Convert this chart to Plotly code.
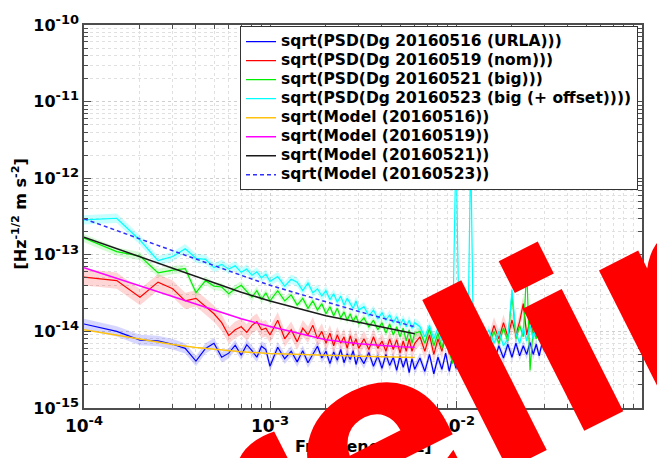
import numpy as np
import plotly.graph_objects as go

# ---------------------------------------------------------------------------
# Data
# ---------------------------------------------------------------------------
# Frequency bins of the measured spectra [mHz]
freq_mhz = [0.10, 0.15, 0.20, 0.25, 0.30, 0.35, 0.40, 0.45, 0.50, 0.55,
            0.60, 0.65, 0.70, 0.75, 0.80, 0.85, 0.90, 0.95, 1.00,
            1.1, 1.2, 1.3, 1.4, 1.5, 1.6, 1.7, 1.8, 1.9, 2.0,
            2.1, 2.2, 2.3, 2.4, 2.5, 2.6, 2.7, 2.8, 2.9, 3.0,
            3.2, 3.4, 3.6, 3.8, 4.0, 4.2, 4.4, 4.6, 4.8, 5.0,
            5.2, 5.4, 5.6, 5.8, 6.0,
            6.4, 6.8, 7.2, 7.6, 8.0, 8.4, 8.8, 9.2, 9.6, 10.0,
            10.4, 10.8, 11.2, 11.6, 12.0, 12.4, 12.8,
            14, 15, 16, 17, 18, 19, 20, 21, 22, 23, 24, 25, 26, 27, 28, 29, 30]

# sqrt(PSD) of the measured differential acceleration [1e-15 m s^-2 Hz^-1/2]
psd_20160516 = [12.5, 10.0, 7.7, 7.5, 6.8, 6.0, 4.1, 6.0, 7.0, 4.6,
                5.2, 6.6, 4.9, 6.7, 5.6, 4.6, 6.4, 5.8, 3.5,
                6.2, 4.4, 5.5, 4.0, 5.6, 3.9, 5.0, 6.4, 4.5, 5.5,
                3.8, 5.4, 4.2, 5.8, 3.9, 5.1, 4.3, 5.6, 3.7, 4.9,
                3.8, 5.3, 3.5, 4.8, 3.3, 5.0, 3.6, 4.6, 3.1, 4.8,
                3.4, 4.5, 2.9, 4.4, 3.2,
                4.5, 3.0, 5.0, 2.8, 4.6, 3.2, 5.2, 3.0, 4.8, 3.3,
                5.0, 3.4, 5.3, 3.5, 5.0, 3.6, 5.5,
                4.2, 6.0, 4.0, 6.5, 4.5, 6.8, 4.6, 7.0, 4.8, 6.5, 5.0, 7.2, 5.0, 6.8, 4.8, 7.0, 5.5]

psd_20160519 = [51, 46, 28, 44, 36, 25, 27, 21, 17, 13,
                8.8, 10.5, 11.5, 9.7, 12, 13.4, 10.5, 11, 9.0,
                14, 8.0, 10.5, 7.3, 11, 9.0, 12, 8.0, 10, 7.0,
                9.5, 6.5, 9.0, 7.0, 8.5, 6.0, 8.8, 6.5, 8.0, 6.0,
                8.0, 5.8, 8.5, 6.0, 7.5, 5.5, 8.0, 5.8, 7.8, 5.2,
                7.5, 5.5, 8.0, 5.5, 7.0,
                8.5, 5.5, 9.0, 5.0, 8.0, 5.5, 9.5, 5.0, 8.0, 5.5,
                9.0, 6.0, 8.5, 5.5, 9.0, 6.0, 9.5,
                10, 7.0, 12, 8.0, 13, 8.5, 14, 9.0, 13.5, 23, 9.0, 14, 9.5, 15, 10, 13, 9.5]

psd_20160521 = [165, 110, 96, 58, 63, 66, 32, 46, 39, 38,
                31, 36, 40, 33, 28, 34, 26, 32, 25,
                34, 25, 30, 22, 27, 20, 25, 19, 23, 17,
                21, 16, 20, 15, 18, 14, 17, 13.5, 16, 12.5,
                15, 11.5, 14, 10.5, 13, 9.5, 12.5, 9.0, 11.5, 8.5,
                11, 7.5, 10.5, 7.0, 9.5,
                10, 7.0, 11, 6.5, 9.5, 6.0, 9.0, 5.5, 3.8, 8.5,
                6.0, 9.0, 5.5, 8.5, 6.0, 9.0, 6.5,
                9.5, 6.5, 10, 7.0, 11, 7.5, 30, 8.0, 12, 8.5, 68, 3.1, 11, 8.0, 12, 8.5, 10]

psd_20160523 = [285, 300, 155, 84, 95, 120, 90, 87, 68, 75,
                65, 72, 59, 65, 54, 60, 50, 56, 45,
                52, 39, 48, 44, 34, 43, 32, 36, 29, 34,
                26, 31, 24, 29, 22, 27, 23, 20, 25, 19,
                21, 16, 19, 14.5, 17.5, 14, 16.5, 13, 15.5, 12,
                14.5, 11.5, 14, 11, 13,
                11.5, 8.5, 12, 8.0, 11, 7.5, 10.5, 7.0, 9.5, 3000,
                8.0, 10, 6.5, 9.0, 2500, 7.0, 9.5,
                7.5, 10.5, 7.0, 10, 6.5, 8.0, 35, 9.5, 7.0, 11, 7.5, 12, 8.0, 11.5, 7.5, 11, 8.0]

# Relative 1-sigma uncertainty factor of each spectrum (multiplicative)
psd_sigma = [1.17, 1.28, 1.13, 1.15]

# Noise models [mHz] and [1e-15 m s^-2 Hz^-1/2]
model_freq_mhz = [0.10, 0.15, 0.20, 0.30, 0.40, 0.50, 0.70, 1.0, 1.5, 2.0, 3.0, 4.0, 5.0, 6.0]
model_20160516 = [10.5, 8.9, 7.85, 6.76, 6.17, 5.82, 5.43, 5.13, 4.95, 4.84, 4.73, 4.66, 4.61, 4.57]
model_20160519 = [68, 49.4, 39.4, 28.6, 22.8, 19.1, 14.6, 11.6, 9.1, 7.8, 6.9, 6.5, 6.3, 6.2]
model_20160521 = [170, 120, 94, 67, 52, 43, 32.4, 25, 19, 16, 13.2, 11.5, 10.2, 9.3]
model_20160523 = [295, 207, 161, 113, 87, 72, 54, 40, 29.7, 24, 18.2, 15, 12.9, 11.5]

psd_names = ["sqrt(PSD(Dg 20160516 (URLA)))",
             "sqrt(PSD(Dg 20160519 (nom)))",
             "sqrt(PSD(Dg 20160521 (big)))",
             "sqrt(PSD(Dg 20160523 (big (+ offset))))"]
model_names = ["sqrt(Model (20160516))",
               "sqrt(Model (20160519))",
               "sqrt(Model (20160521))",
               "sqrt(Model (20160523))"]

# Decade ticks: values and exponents printed on the labels
x_tick_vals = [1e-4, 1e-3, 1e-2, 1e-1]
x_tick_exp = ["-4", "-3", "-2", "-1"]
y_tick_vals = [1e-15, 1e-14, 1e-13, 1e-12, 1e-11, 1e-10]
y_tick_exp = ["-15", "-14", "-13", "-12", "-11", "-10"]

# ---------------------------------------------------------------------------
# Styling
# ---------------------------------------------------------------------------
MHZ = 1e-3      # mHz -> Hz
UNIT = 1e-15    # data unit -> m s^-2 Hz^-1/2

psd_colors = ["#0000ff", "#ff0000", "#00ee00", "#00ffff"]
band_colors = ["rgba(0,0,255,0.16)", "rgba(255,0,0,0.16)",
               "rgba(0,230,0,0.16)", "rgba(0,255,255,0.22)"]
model_colors = ["#ffc20e", "#ff00ff", "#1a1a1a", "#2f2fff"]
model_dash = ["solid", "solid", "solid", "4px,3px"]

FONT = "DejaVu Sans, sans-serif"
LEGEND_PX = 15.5


def power_labels(exps, sup_px):
    return [f'10<sup><span style="font-size:{sup_px}px">{e}</span></sup>' for e in exps]


f_hz = np.array(freq_mhz) * MHZ
fm_hz = np.array(model_freq_mhz) * MHZ
psd_sets = [psd_20160516, psd_20160519, psd_20160521, psd_20160523]
model_sets = [model_20160516, model_20160519, model_20160521, model_20160523]

fig = go.Figure()

# measured spectra with their uncertainty bands
for vals, name, col, bcol, sig in zip(psd_sets, psd_names, psd_colors, band_colors, psd_sigma):
    v = np.array(vals) * UNIT
    fig.add_trace(go.Scatter(x=f_hz, y=v * sig, mode="lines", line=dict(width=0),
                             showlegend=False, hoverinfo="skip"))
    fig.add_trace(go.Scatter(x=f_hz, y=v / sig, mode="lines", line=dict(width=0),
                             fill="tonexty", fillcolor=bcol,
                             showlegend=False, hoverinfo="skip"))
    fig.add_trace(go.Scatter(x=f_hz, y=v, mode="lines",
                             line=dict(color=col, width=1.2),
                             name=f'<span style="font-size:{LEGEND_PX}px">{name}</span>'))

# noise models
for vals, name, col, dash in zip(model_sets, model_names, model_colors, model_dash):
    fig.add_trace(go.Scatter(x=fm_hz, y=np.array(vals) * UNIT, mode="lines",
                             line=dict(color=col, width=1.5, dash=dash),
                             name=f'<span style="font-size:{LEGEND_PX}px">{name}</span>'))

axis_common = dict(
    type="log",
    tickmode="array",
    showline=True, linecolor="#4d4d4d", linewidth=1.5, mirror="allticks",
    ticks="inside", ticklen=7, tickwidth=1, tickcolor="#4d4d4d",
    showgrid=True, gridcolor="#cfcfcf", gridwidth=1, griddash="dot",
    minor=dict(dtick="D1", ticks="inside", ticklen=4, tickcolor="#4d4d4d",
               showgrid=True, gridcolor="#e0e0e0", griddash="dot"),
    zeroline=False,
)

fig.update_xaxes(range=[-4, -1], tickvals=x_tick_vals, ticktext=power_labels(x_tick_exp, 13),
                 tickfont=dict(family=FONT, size=17, color="black", weight="bold"),
                 ticklabelstandoff=2, **axis_common)
fig.update_yaxes(range=[-15, -10], tickvals=y_tick_vals, ticktext=power_labels(y_tick_exp, 13),
                 tickfont=dict(family=FONT, size=16, color="black", weight="bold"),
                 **axis_common)

fig.update_layout(
    width=657, height=458,
    margin=dict(l=84, r=15, t=18, b=50),
    paper_bgcolor="white", plot_bgcolor="white",
    font=dict(family=FONT, color="black"),
    showlegend=True,
    legend=dict(x=0.2796, y=0.997, xanchor="left", yanchor="top",
                bgcolor="white", bordercolor="#333333", borderwidth=1,
                font=dict(family=FONT, size=12, color="black", weight="bold"),
                itemwidth=30, tracegroupgap=0, traceorder="normal"),
    annotations=[
        dict(text="Frequency [Hz]", xref="paper", yref="paper", x=0.5, y=-0.1,
             xanchor="center", yanchor="middle", showarrow=False,
             font=dict(family=FONT, size=16, color="black", weight="bold")),
        dict(text="[Hz<sup>-1/2</sup> m s<sup>-2</sup>]", xref="paper", yref="paper",
             x=-0.1147, y=0.5077, xanchor="center", yanchor="middle", textangle=-90,
             showarrow=False, font=dict(family=FONT, size=16, color="black", weight="bold")),
        dict(text="Preliminary", xref="paper", yref="paper", x=1.1971, y=0.4128,
             xanchor="center", yanchor="middle", textangle=-26.75, showarrow=False,
             font=dict(family="DejaVu Sans", size=250, color="#ff0000", weight="bold")),
    ],
)

fig.write_html("out.html")
